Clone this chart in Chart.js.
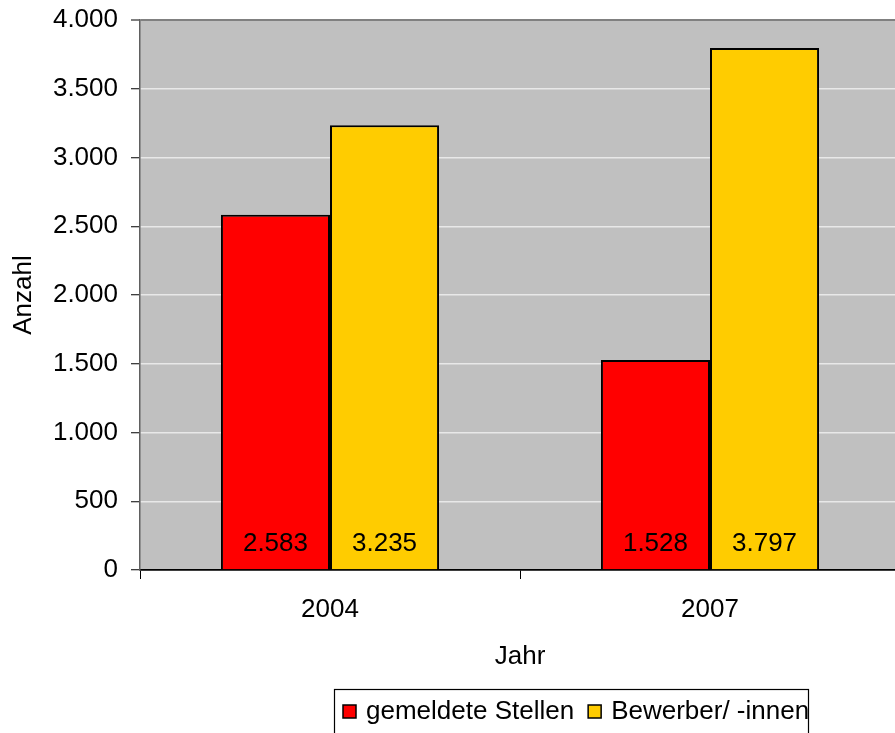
<!DOCTYPE html>
<html>
<head>
<meta charset="utf-8">
<script src="https://cdn.jsdelivr.net/npm/chart.js@4.4.1/dist/chart.umd.min.js"></script>
<style>
  html, body { margin: 0; padding: 0; background: #fff; overflow: hidden; }
  #wrap { position: relative; width: 900px; height: 733px; }
</style>
</head>
<body>
<div id="wrap"><canvas id="c" width="900" height="733"></canvas></div>
<script>
// ---- data ----
const categories = ['2004', '2007'];
const seriesNames = ['gemeldete Stellen', 'Bewerber/ -innen'];
const stellen = [2583, 1528];
const bewerber = [3235, 3797];
const yTickValues = [0, 500, 1000, 1500, 2000, 2500, 3000, 3500, 4000];
const yTitle = 'Anzahl';
const xTitle = 'Jahr';

const FONT = '"Liberation Sans", Arial, sans-serif';
const fmt = v => Math.round(v).toString().replace(/\B(?=(\d{3})+(?!\d))/g, '.');

const plotBg = {
  id: 'plotBg',
  beforeDraw(chart) {
    const {ctx, chartArea: a} = chart;
    ctx.save();
    ctx.fillStyle = '#C0C0C0';
    ctx.fillRect(a.left, a.top, a.right - a.left, a.bottom - a.top);
    ctx.restore();
  }
};

const valueLabels = {
  id: 'valueLabels',
  afterDatasetsDraw(chart) {
    const ctx = chart.ctx;
    ctx.save();
    ctx.font = '26px ' + FONT;
    ctx.fillStyle = '#000';
    ctx.textAlign = 'center';
    ctx.textBaseline = 'middle';
    chart.data.datasets.forEach((ds, i) => {
      chart.getDatasetMeta(i).data.forEach((bar, j) => {
        ctx.fillText(fmt(ds.data[j]), bar.x, bar.base - 25);
      });
    });
    ctx.restore();
  }
};

const boxLegend = {
  id: 'boxLegend',
  afterDraw(chart) {
    const ctx = chart.ctx;
    ctx.save();
    ctx.font = '26px ' + FONT;
    const left = 334, top = 689, right = 808, bottom = 740;
    ctx.strokeStyle = '#000';
    ctx.lineWidth = 1.2;
    ctx.strokeRect(left + 0.5, top + 0.5, right - left, bottom - top);
    let x = 343;
    const boxTop = 705, box = 13;
    ctx.textBaseline = 'alphabetic';
    ctx.textAlign = 'left';
    chart.data.datasets.forEach(ds => {
      ctx.fillStyle = ds.backgroundColor;
      ctx.fillRect(x, boxTop, box, box);
      ctx.lineWidth = 1.5;
      ctx.strokeStyle = '#000';
      ctx.strokeRect(x, boxTop, box, box);
      ctx.fillStyle = '#000';
      ctx.fillText(ds.label, x + 23, 719);
      x += 23 + ctx.measureText(ds.label).width + 14;
    });
    ctx.restore();
  }
};

new Chart(document.getElementById('c'), {
  type: 'bar',
  data: {
    labels: categories,
    datasets: [
      { label: seriesNames[0], data: stellen, backgroundColor: '#FF0000', borderColor: '#000', borderWidth: 2, borderSkipped: 'bottom' },
      { label: seriesNames[1], data: bewerber, backgroundColor: '#FFCC00', borderColor: '#000', borderWidth: 2, borderSkipped: 'bottom' }
    ]
  },
  options: {
    responsive: false,
    animation: false,
    events: [],
    layout: { padding: { left: 0, right: 0, top: 20, bottom: 57 } },
    datasets: { bar: { categoryPercentage: 0.574, barPercentage: 1.0 } },
    plugins: {
      legend: { display: false },
      tooltip: { enabled: false }
    },
    scales: {
      x: {
        grid: { offset: true, drawOnChartArea: false, tickLength: 9, tickColor: '#000', tickWidth: 1 },
        border: { color: '#000', width: 1.5 },
        ticks: { font: { family: FONT, size: 26 }, color: '#000', padding: 15 },
        title: { display: true, text: xTitle, font: { family: FONT, size: 26 }, color: '#000', padding: { top: 4, bottom: 4 } },
        afterFit(s) { s.height = 106; s.paddingLeft = 0; s.paddingRight = 0; }
      },
      y: {
        min: 0, max: 4000,
        afterBuildTicks(s) { s.ticks = yTickValues.map(v => ({ value: v })); },
        grid: {
          color: c => c.tick && c.tick.value === 4000 ? '#808080' : (c.tick && c.tick.value === 0 ? '#000' : '#E8E8E8'),
          lineWidth: c => c.tick && c.tick.value === 4000 ? 2 : 1.5,
          tickLength: 9, tickColor: '#000', tickWidth: 1
        },
        border: { color: '#606060', width: 1.5 },
        ticks: { font: { family: FONT, size: 26 }, color: '#000', padding: 13, callback: v => fmt(v) },
        title: { display: true, text: yTitle, font: { family: FONT, size: 26 }, color: '#000', padding: { top: 8, bottom: 0 } },
        afterFit(s) { s.width = 140; s.paddingTop = 0; s.paddingBottom = 0; }
      }
    }
  },
  plugins: [plotBg, valueLabels, boxLegend]
});
</script>
</body>
</html>
